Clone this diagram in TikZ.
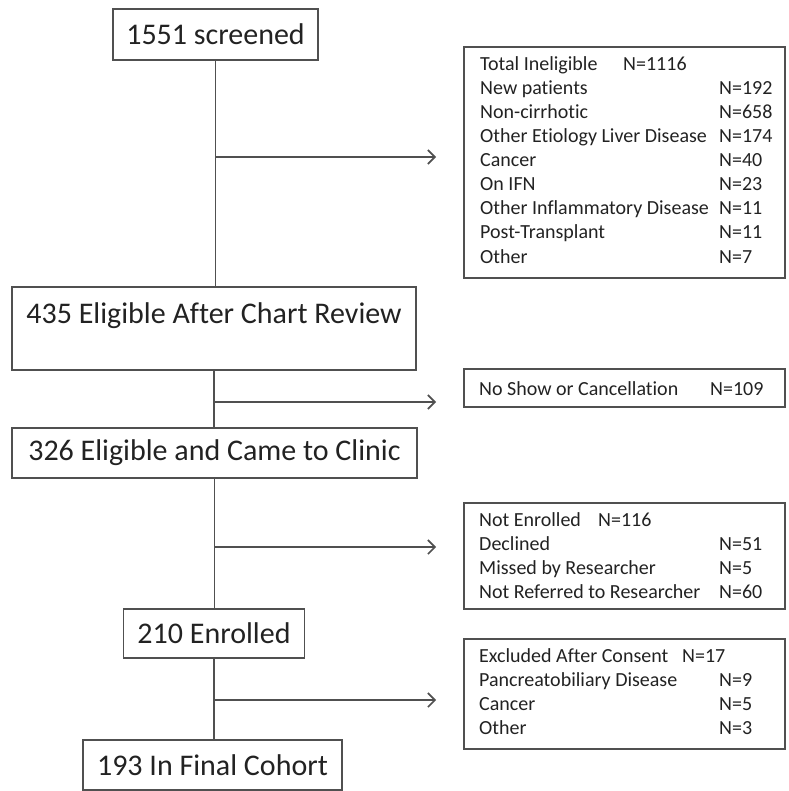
\documentclass[tikz,border=0pt]{standalone}
\usepackage{fontspec}
\setmainfont{Carlito}[Ligatures=NoCommon]
\usetikzlibrary{arrows.meta}
\definecolor{txt}{HTML}{222222}
\definecolor{ln}{HTML}{505050}
\tikzset{
  mainbox/.style={draw=ln, line width=1.6pt, inner sep=0pt, text=txt,
    font=\fontsize{30}{36}\selectfont, align=center},
  sidebox/.style={draw=ln, line width=1.6pt, inner sep=0pt},
  lbl/.style={anchor=base west, inner sep=0pt, text=txt, font=\fontsize{20}{24}\selectfont},
  flow/.style={draw=ln, line width=1.6pt},
  arr/.style={flow, -{Straight Barb[length=7pt,width=14pt,line width=1.6pt]}}
}
\begin{document}
\begin{tikzpicture}[x=1pt,y=-1pt]
\useasboundingbox (0,0) rectangle (788,791);
% main boxes
\node[mainbox, minimum width=205pt, minimum height=51pt] (A) at (215.5,34.5) {1551 screened};
\node[mainbox, minimum width=404pt, minimum height=83pt, font=\fontsize{30}{24}\selectfont] (B) at (214,328.5) {435 Eligible After Chart Review\\ \strut};
\node[mainbox, minimum width=405pt, minimum height=50pt] (C) at (214.5,453) {326 Eligible and Came to Clinic};
\node[mainbox, minimum width=181pt, minimum height=49pt] (D) at (214,633.5) {210 Enrolled};
\node[mainbox, minimum width=259pt, minimum height=50pt] (E) at (212.5,765) {193 In Final Cohort};
% vertical connectors
\draw[flow] (A.south) -- (A.south |- B.north);
\draw[flow] (B.south) -- (B.south |- C.north);
\draw[flow] (C.south) -- (C.south |- D.north);
\draw[flow] (D.south) -- (D.south |- E.north);
% branch points and arrow ends
\coordinate (j1) at (215,157);   \coordinate (t1) at (436,157);
\coordinate (j2) at (214,402);   \coordinate (t2) at (436,402);
\coordinate (j3) at (214.5,547); \coordinate (t3) at (436,547);
\coordinate (j4) at (214,700);   \coordinate (t4) at (436,700);
\draw[arr] (j1) -- (t1);
\draw[arr] (j2) -- (t2);
\draw[arr] (j3) -- (t3);
\draw[arr] (j4) -- (t4);
% side boxes
\node[sidebox, minimum width=321pt, minimum height=231pt] (S1) at (624.5,162.5) {};
\node[sidebox, minimum width=321pt, minimum height=38pt] (S2) at (624.5,388) {};
\node[sidebox, minimum width=321pt, minimum height=106pt] (S3) at (624.5,556) {};
\node[sidebox, minimum width=321pt, minimum height=110pt] (S4) at (624.5,694) {};
% box 1 text
\node[lbl] (s1a) at (480,71) {Total Ineligible};
\node[lbl] (s1an) at (623,71) {N=1116};
\foreach \t/\n [count=\i] in {New patients/N=192, Non-cirrhotic/N=658, Other Etiology Liver Disease/N=174, Cancer/N=40, On IFN/N=23, Other Inflammatory Disease/N=11, Post-Transplant/N=11, Other/N=7}{
  \node[lbl] (s1l\i) at (480,71+24*\i) {\t};
  \node[lbl] (s1n\i) at (719,71+24*\i) {\n};
}
% box 2 text
\node[lbl] (s2a) at (479,395) {No Show or Cancellation};
\node[lbl] (s2n) at (710,395) {N=109};
% box 3 text
\node[lbl] (s3a) at (479,526) {Not Enrolled};
\node[lbl] (s3an) at (598,526) {N=116};
\foreach \t/\n [count=\i] in {Declined/N=51, Missed by Researcher/N=5, Not Referred to Researcher/N=60}{
  \node[lbl] (s3l\i) at (479,526+24*\i) {\t};
  \node[lbl] (s3n\i) at (719,526+24*\i) {\n};
}
% box 4 text
\node[lbl] (s4a) at (479,662) {Excluded After Consent};
\node[lbl] (s4an) at (682,662) {N=17};
\foreach \t/\n [count=\i] in {Pancreatobiliary Disease/N=9, Cancer/N=5, Other/N=3}{
  \node[lbl] (s4l\i) at (479,662+24*\i) {\t};
  \node[lbl] (s4n\i) at (719,662+24*\i) {\n};
}
\end{tikzpicture}
\end{document}
